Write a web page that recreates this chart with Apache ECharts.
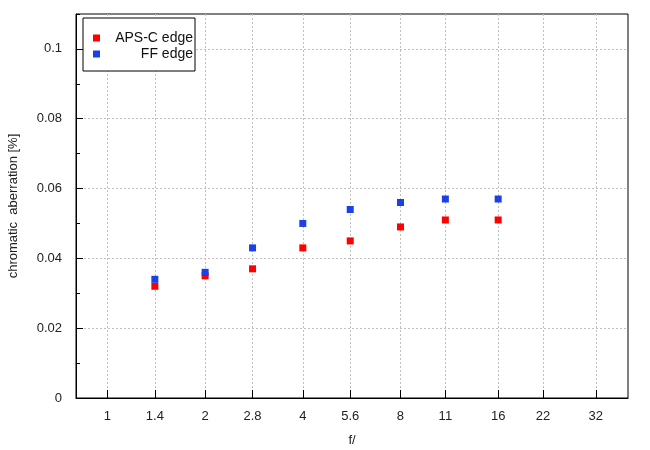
<!DOCTYPE html>
<html>
<head>
<meta charset="utf-8">
<script src="https://cdn.jsdelivr.net/npm/echarts@6/dist/echarts.min.js"></script>
<style>html,body{margin:0;padding:0;background:#fff;}#c{width:650px;height:450px;}</style>
</head>
<body>
<div id="c"></div>
<script>
// f-numbers where the points are measured
var fNumbers = [1.4, 2, 2.8, 4, 5.6, 8, 11, 16];
var apscEdge = [0.032, 0.035, 0.037, 0.043, 0.045, 0.049, 0.051, 0.051];
var ffEdge   = [0.034, 0.036, 0.043, 0.050, 0.054, 0.056, 0.057, 0.057];
// x axis tick positions (f-numbers) and their labels
var xTickValues = [1, 1.4, 2, 2.8, 4, 5.6, 8, 11, 16, 22, 32];
var xTickLabels = ['1', '1.4', '2', '2.8', '4', '5.6', '8', '11', '16', '22', '32'];
var yMajorTicks = [0, 0.02, 0.04, 0.06, 0.08, 0.1];
var seriesNames = ['APS-C edge', 'FF edge'];

var FONT = '"Liberation Sans", Arial, sans-serif';
function lg(v){ return Math.log(v); }
var xTickPos = xTickValues.map(lg);

function pairs(vals){ return fNumbers.map(function(f,i){ return [lg(f), vals[i]]; }); }

var chart = echarts.init(document.getElementById('c'), null, {renderer:'canvas'});
chart.setOption({
  animation: false,
  backgroundColor: '#fff',
  textStyle: {fontFamily: FONT},
  grid: {left: 76, right: 22, top: 14, bottom: 52, show: true, borderColor: '#000', borderWidth: 1,
         backgroundColor: 'transparent', containLabel: false, outerBoundsMode: 'none'},
  legend: {
    left: 83, top: 18, orient: 'vertical',
    itemWidth: 7, itemHeight: 7, itemGap: 2,
    padding: [13, 2, 10, 10],
    borderColor: '#000', borderWidth: 1, backgroundColor: '#fff',
    icon: 'rect',
    data: seriesNames,
    formatter: function(n){ return '{a|' + n + '}'; },
    textStyle: {fontFamily: FONT, fontSize: 14, color: '#000',
      rich: {a: {width: 88, align: 'right', fontSize: 14, lineHeight: 16, fontFamily: FONT, color: '#111'}}}
  },
  xAxis: {
    type: 'value', min: lg(0.8), max: lg(40.2),
    name: 'f/', nameLocation: 'middle', nameGap: 36,
    nameTextStyle: {fontFamily: FONT, fontSize: 13, color: '#222'},
    axisLine: {show: true, onZero: false, lineStyle: {color: '#000', width: 1}},
    axisTick: {show: true, inside: true, length: 8, customValues: xTickPos, lineStyle: {color: '#000'}},
    axisLabel: {customValues: xTickPos, margin: 12, fontSize: 13, color: '#222', fontFamily: FONT,
      formatter: function(v){
        var best = 0, d = 1e9;
        for (var i = 0; i < xTickPos.length; i++) { var dd = Math.abs(xTickPos[i]-v); if (dd < d) { d = dd; best = i; } }
        return xTickLabels[best];
      }},
    splitLine: {show: true, lineStyle: {color: '#c0c0c0', type: [2, 2], width: 1}}
  },
  yAxis: [{
    type: 'value', min: 0, max: 0.11, interval: 0.02,
    name: 'chromatic  aberration [%]', nameLocation: 'middle', nameGap: 56, nameRotate: 90,
    nameTextStyle: {fontFamily: FONT, fontSize: 13, color: '#222'},
    axisLine: {show: true, onZero: false, lineStyle: {color: '#000', width: 1}},
    axisTick: {show: true, inside: true, length: 7, customValues: yMajorTicks, lineStyle: {color: '#000'}},
    axisLabel: {customValues: yMajorTicks, margin: 14, fontSize: 13, color: '#222', fontFamily: FONT,
      formatter: function(v){ return String(Math.round(v*100)/100); }},
    splitLine: {show: true, lineStyle: {color: '#c0c0c0', type: [2, 2], width: 1}}
  }, {
    type: 'value', min: 0, max: 0.11, interval: 0.01, position: 'left', offset: 0,
    axisLine: {show: false, onZero: false},
    axisTick: {show: true, inside: true, length: 4, lineStyle: {color: '#000'}},
    axisLabel: {show: false},
    splitLine: {show: false}
  }],
  series: [{
    name: seriesNames[0], type: 'scatter', symbol: 'rect', symbolSize: 7,
    itemStyle: {color: '#ff0000', opacity: 1}, data: pairs(apscEdge), z: 3
  }, {
    name: seriesNames[1], type: 'scatter', symbol: 'rect', symbolSize: 7,
    itemStyle: {color: '#1a40e6', opacity: 1}, data: pairs(ffEdge), z: 4
  }]
});
</script>
</body>
</html>
